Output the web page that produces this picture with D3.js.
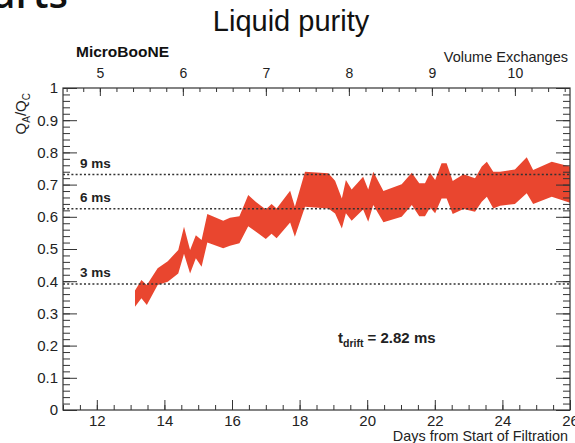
<!DOCTYPE html>
<html>
<head>
<meta charset="utf-8">
<script src="https://cdn.jsdelivr.net/npm/d3@7"></script>
<style>
  html, body { margin: 0; padding: 0; background: #fff; }
  svg { display: block; }
  text { font-family: "Liberation Sans", Arial, Helvetica, sans-serif; fill: #222; }
</style>
</head>
<body>
<svg id="chart" width="575" height="443"></svg>
<script>
// Electron-lifetime band: collected/produced charge ratio vs. days of filtration
const days  = [13.13, 13.32, 13.48, 13.80, 14.10, 14.41, 14.58, 14.76, 14.93, 15.10,
               15.27, 15.74, 15.94, 16.22, 16.48, 16.70, 17.00, 17.17, 17.32, 17.72,
               17.86, 18.16, 18.85, 19.05, 19.25, 19.37, 19.54, 19.88, 20.03, 20.18,
               20.48, 21.02, 21.32, 21.54, 21.71, 21.86, 22.01, 22.20, 22.35, 22.53,
               22.85, 23.19, 23.39, 23.54, 23.73, 23.93, 24.37, 24.72, 24.91, 25.46, 26.00];
const upper = [0.371, 0.404, 0.388, 0.440, 0.462, 0.497, 0.569, 0.497, 0.543, 0.528,
               0.609, 0.588, 0.597, 0.602, 0.668, 0.647, 0.623, 0.640, 0.626, 0.681,
               0.631, 0.740, 0.735, 0.712, 0.657, 0.714, 0.685, 0.724, 0.685, 0.740,
               0.680, 0.701, 0.737, 0.704, 0.704, 0.737, 0.714, 0.766, 0.766, 0.711,
               0.732, 0.720, 0.756, 0.771, 0.740, 0.740, 0.747, 0.785, 0.745, 0.771, 0.756];
const lower = [0.321, 0.347, 0.326, 0.388, 0.398, 0.424, 0.485, 0.424, 0.471, 0.445,
               0.520, 0.502, 0.510, 0.518, 0.571, 0.554, 0.531, 0.547, 0.533, 0.582,
               0.538, 0.631, 0.626, 0.610, 0.564, 0.611, 0.588, 0.623, 0.585, 0.637,
               0.583, 0.600, 0.637, 0.602, 0.602, 0.629, 0.611, 0.657, 0.657, 0.609,
               0.624, 0.616, 0.647, 0.662, 0.626, 0.634, 0.640, 0.673, 0.640, 0.662, 0.644];

// Reference lifetimes drawn as dotted lines
const lifetimeLabels = ["9 ms", "6 ms", "3 ms"];
const lifetimeValues = [0.731, 0.625, 0.391];

// Axis ticks
const dayTicks    = [12, 14, 16, 18, 20, 22, 24, 26];
const ratioTicks  = [0, 0.1, 0.2, 0.3, 0.4, 0.5, 0.6, 0.7, 0.8, 0.9, 1];
const volumeTicks = [5, 6, 7, 8, 9, 10];
const dayDomain   = [11, 26];
const ratioDomain = [0, 1];
// Volume exchanges completed at the given day (5 exchanges at day 12.09, one every 2.456 days)
const volumeRef = { day: 12.09, volume: 5, daysPerExchange: 2.456 };

const svg = d3.select("#chart");
const frame = { l: 63, r: 570, t: 88, b: 410 };
const axisColor = "#333";

const x = d3.scaleLinear().domain(dayDomain).range([frame.l, frame.r]);
const y = d3.scaleLinear().domain(ratioDomain).range([frame.b, frame.t]);
const toVol = d => volumeRef.volume + (d - volumeRef.day) / volumeRef.daysPerExchange;
const xv = d3.scaleLinear().domain(dayDomain.map(toVol)).range([frame.l, frame.r]);

// Slide title fragments
svg.append("text").attr("x", 68).attr("y", 8).attr("text-anchor", "end")
  .style("font-family", "'Open Sans', sans-serif").style("font-size", "40px")
  .style("font-weight", 600).style("fill", "#111").text("arts");
svg.append("text").attr("x", 291).attr("y", 31).attr("text-anchor", "middle")
  .style("font-family", "'Liberation Sans', Arial, sans-serif").style("font-size", "29px")
  .style("fill", "#111").text("Liquid purity");

// Band
const band = days.map((d, i) => ({ d, hi: upper[i], lo: lower[i] }));
svg.append("path").datum(band)
  .attr("fill", "#e9462f")
  .attr("d", d3.area().x(p => x(p.d)).y0(p => y(p.lo)).y1(p => y(p.hi)));

// Dotted lifetime lines
lifetimeValues.forEach((v, i) => {
  svg.append("line")
    .attr("x1", frame.l).attr("x2", frame.r).attr("y1", y(v)).attr("y2", y(v))
    .attr("stroke", "#333").attr("stroke-width", 1.5).attr("stroke-dasharray", "2,2.2");
  svg.append("text").attr("x", 80).attr("y", y(v) - 7)
    .style("font-size", "13.5px").style("font-weight", "bold").text(lifetimeLabels[i]);
});

// Axes helper
function styleAxis(g) {
  g.select(".domain").remove();
  g.selectAll("line").attr("stroke", axisColor).attr("stroke-width", 1);
  g.selectAll("text").style("font-size", "15px").style("fill", "#222")
    .style("font-family", "'Liberation Sans', Arial, sans-serif");
}
const fmt = d3.format("");
const ratioFmt = v => (v === 0 || v === 1) ? String(v) : d3.format(".1f")(v);

const minorDays = d3.range(11, 26.01, 0.5);
const minorRatio = d3.range(0, 1.001, 0.02).map(v => +v.toFixed(2));
const minorVol = d3.range(4.6, 10.7, 0.2).map(v => +v.toFixed(1));

// Bottom axis
svg.append("g").attr("transform", `translate(0,${frame.b})`)
  .call(d3.axisTop(x).tickValues(minorDays).tickSize(5).tickFormat(""))
  .call(styleAxis);
svg.append("g").attr("transform", `translate(0,${frame.b})`)
  .call(d3.axisTop(x).tickValues(dayTicks).tickSize(10).tickFormat(""))
  .call(styleAxis);
svg.append("g").attr("transform", `translate(0,${frame.b})`)
  .call(d3.axisBottom(x).tickValues(dayTicks).tickSize(0).tickPadding(5).tickFormat(fmt))
  .call(styleAxis);

// Left axis
svg.append("g").attr("transform", `translate(${frame.l},0)`)
  .call(d3.axisRight(y).tickValues(minorRatio).tickSize(7).tickFormat(""))
  .call(styleAxis);
svg.append("g").attr("transform", `translate(${frame.l},0)`)
  .call(d3.axisRight(y).tickValues(ratioTicks).tickSize(14).tickFormat(""))
  .call(styleAxis);
svg.append("g").attr("transform", `translate(${frame.l},0)`)
  .call(d3.axisLeft(y).tickValues(ratioTicks).tickSize(0).tickPadding(5).tickFormat(ratioFmt))
  .call(styleAxis);

// Right axis (mirrored ticks)
svg.append("g").attr("transform", `translate(${frame.r},0)`)
  .call(d3.axisLeft(y).tickValues(minorRatio).tickSize(7).tickFormat(""))
  .call(styleAxis);
svg.append("g").attr("transform", `translate(${frame.r},0)`)
  .call(d3.axisLeft(y).tickValues(ratioTicks).tickSize(14).tickFormat(""))
  .call(styleAxis);

// Top axis: volume exchanges
svg.append("g").attr("transform", `translate(0,${frame.t})`)
  .call(d3.axisBottom(xv).tickValues(minorVol).tickSize(4).tickFormat(""))
  .call(styleAxis);
svg.append("g").attr("transform", `translate(0,${frame.t})`)
  .call(d3.axisBottom(xv).tickValues(volumeTicks).tickSize(8).tickFormat(""))
  .call(styleAxis);
svg.append("g").attr("transform", `translate(0,${frame.t})`)
  .call(d3.axisTop(xv).tickValues(volumeTicks).tickSize(0).tickPadding(10).tickFormat(fmt))
  .call(g => { styleAxis(g); g.selectAll("text").style("font-size", "14px"); });

// Frame
svg.append("rect").attr("x", frame.l).attr("y", frame.t)
  .attr("width", frame.r - frame.l).attr("height", frame.b - frame.t)
  .attr("fill", "none").attr("stroke", axisColor).attr("stroke-width", 1.2);

// Labels
svg.append("text").attr("x", 76).attr("y", 57)
  .style("font-size", "15.5px").style("font-weight", "bold").style("fill", "#111").text("MicroBooNE");
svg.append("text").attr("x", 568).attr("y", 62).attr("text-anchor", "end")
  .style("font-size", "14.5px").text("Volume Exchanges");
svg.append("text").attr("x", 568).attr("y", 441).attr("text-anchor", "end")
  .style("font-size", "14.4px").text("Days from Start of Filtration");

const yl = svg.append("text").attr("transform", "translate(26,93) rotate(-90)")
  .attr("text-anchor", "end").style("font-size", "15px");
yl.append("tspan").text("Q");
yl.append("tspan").attr("dy", 4).style("font-size", "10px").text("A");
yl.append("tspan").attr("dy", -4).text("/Q");
yl.append("tspan").attr("dy", 4).style("font-size", "10px").text("C");

const td = svg.append("text").attr("x", 338).attr("y", 343)
  .style("font-size", "15px").style("font-weight", "bold");
td.append("tspan").text("t");
td.append("tspan").attr("dy", 4).style("font-size", "10.5px").text("drift");
td.append("tspan").attr("dy", -4).text(" = 2.82 ms");
</script>
</body>
</html>
